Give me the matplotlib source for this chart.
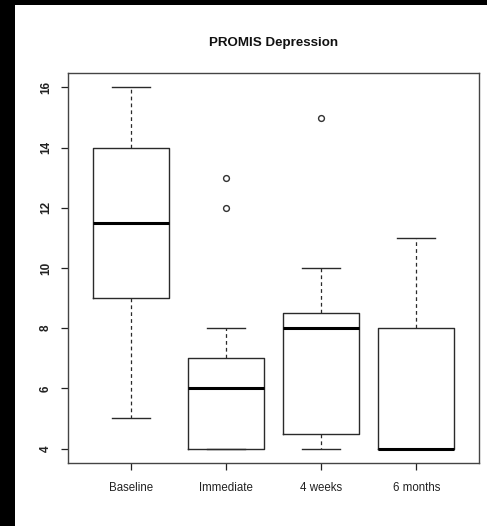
import matplotlib
matplotlib.use("Agg")
import matplotlib.pyplot as plt
from matplotlib.patches import Rectangle

plt.rcParams['font.family'] = ['Liberation Sans', 'DejaVu Sans']

# Box-plot summaries per time point
groups = ["Baseline", "Immediate", "4 weeks", "6 months"]
q1 = [9, 4, 4.5, 4]
medians = [11.5, 6, 8, 4]
q3 = [14, 7, 8.5, 8]
whisker_low = [5, 4, 4, 4]
whisker_high = [16, 8, 10, 11]
outliers = [[], [12, 13], [15], []]
y_ticks = [4, 6, 8, 10, 12, 14, 16]
title = "PROMIS Depression"

W, H = 487, 526
fig = plt.figure(figsize=(W / 100, H / 100), dpi=100)
fig.patch.set_facecolor("white")

# dark frame strips along the left and top edges
fig.add_artist(Rectangle((0, 0), 15 / W, 1, transform=fig.transFigure,
                         facecolor="black", edgecolor="none", zorder=10))
fig.add_artist(Rectangle((0, 1 - 5 / H), 1, 5 / H, transform=fig.transFigure,
                         facecolor="black", edgecolor="none", zorder=10))

left, right, top, bottom = 68, 479, 73, 463
ax = fig.add_axes([left / W, (H - bottom) / H, (right - left) / W, (bottom - top) / H])

stats = []
for i, g in enumerate(groups):
    stats.append(dict(label=g, q1=q1[i], med=medians[i], q3=q3[i],
                      whislo=whisker_low[i], whishi=whisker_high[i],
                      fliers=outliers[i]))

edge = "#2a2a2a"
ax.bxp(stats, positions=range(1, len(groups) + 1), widths=0.8,
       showfliers=True,
       boxprops=dict(color=edge, linewidth=1.0),
       medianprops=dict(color="black", linewidth=2.2, solid_capstyle="butt"),
       whiskerprops=dict(color=edge, linewidth=0.9, linestyle=(0, (3, 2.5))),
       capprops=dict(color=edge, linewidth=1.0),
       capwidths=0.4,
       flierprops=dict(marker="o", markersize=4.2, markerfacecolor="none",
                       markeredgecolor="#333333", markeredgewidth=1.0))

ax.set_xlim(0.34, 4.66)
ax.set_ylim(3.52, 16.48)
ax.set_yticks(y_ticks)
ax.set_yticklabels([str(v) for v in y_ticks], rotation=90, va="center",
                   fontsize=8.5, fontweight="bold", color="#222222")
ax.set_xticks(range(1, len(groups) + 1))
ax.set_xticklabels(groups, fontsize=8.3, color="#222222")
ax.tick_params(axis="y", length=5, width=0.9, pad=6.5, color="#222222")
ax.tick_params(axis="x", length=5, width=0.9, pad=9, color="#222222")
for s in ax.spines.values():
    s.set_color("#444444")
    s.set_linewidth(1.0)

fig.text((left + right) / 2 / W, 1 - 43 / H, title, ha="center", va="center",
         fontsize=9.6, fontweight="bold", color="#111111")

fig.savefig("out.png", dpi=100)
